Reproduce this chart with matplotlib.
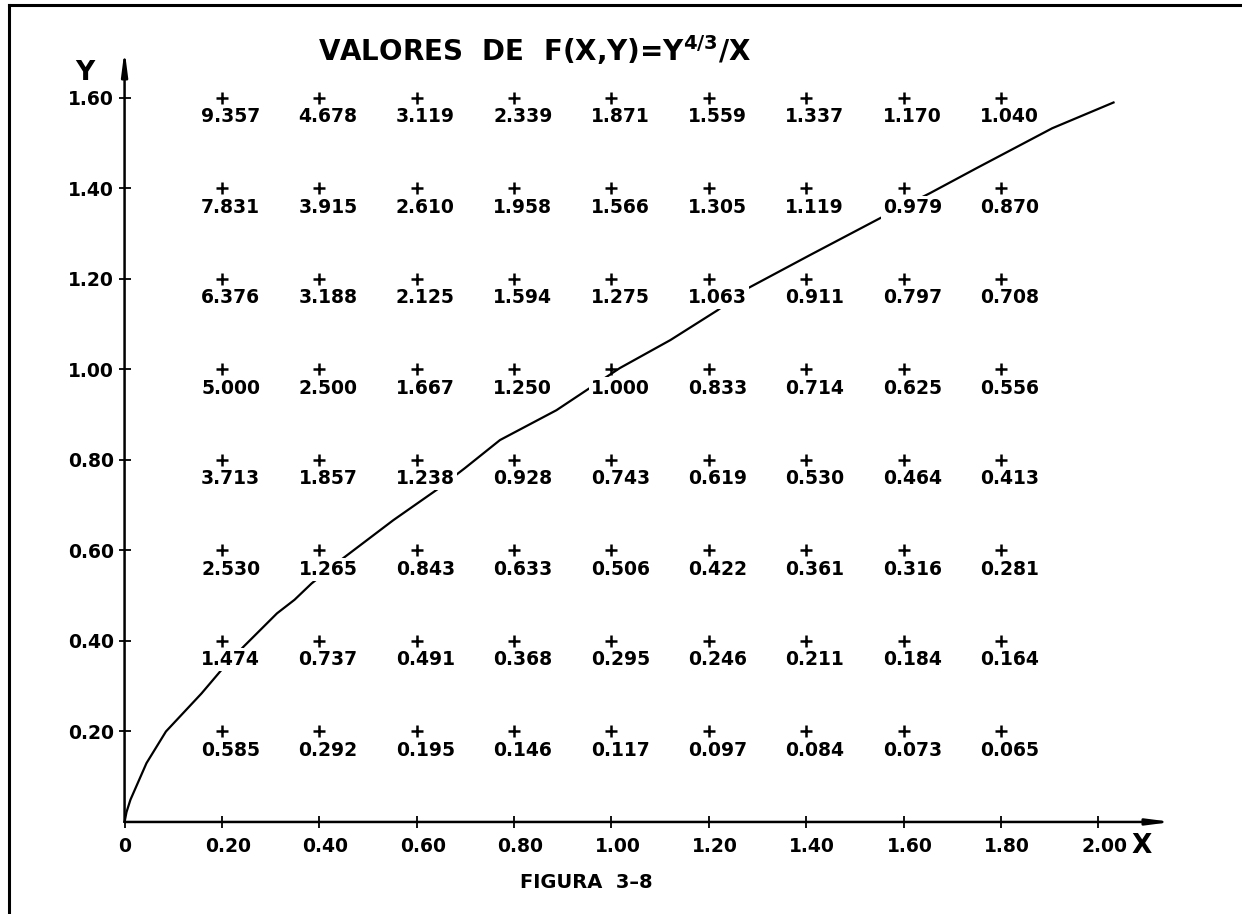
import matplotlib
matplotlib.use('Agg')
import matplotlib.pyplot as plt
from matplotlib.lines import Line2D
from matplotlib.transforms import ScaledTranslation

plt.rcParams['font.family'] = ['DejaVu Sans']
plt.rcParams['font.weight'] = 'bold'

# grid where F(X,Y) = Y^(4/3)/X was evaluated
x_vals = [0.2, 0.4, 0.6, 0.8, 1.0, 1.2, 1.4, 1.6, 1.8]
y_vals = [1.6, 1.4, 1.2, 1.0, 0.8, 0.6, 0.4, 0.2]

# values written under each cross, one row per Y (top to bottom)
f_vals = [
    [9.357, 4.678, 3.119, 2.339, 1.871, 1.559, 1.337, 1.170, 1.040],
    [7.831, 3.915, 2.610, 1.958, 1.566, 1.305, 1.119, 0.979, 0.870],
    [6.376, 3.188, 2.125, 1.594, 1.275, 1.063, 0.911, 0.797, 0.708],
    [5.000, 2.500, 1.667, 1.250, 1.000, 0.833, 0.714, 0.625, 0.556],
    [3.713, 1.857, 1.238, 0.928, 0.743, 0.619, 0.530, 0.464, 0.413],
    [2.530, 1.265, 0.843, 0.633, 0.506, 0.422, 0.361, 0.316, 0.281],
    [1.474, 0.737, 0.491, 0.368, 0.295, 0.246, 0.211, 0.184, 0.164],
    [0.585, 0.292, 0.195, 0.146, 0.117, 0.097, 0.084, 0.073, 0.065],
]

# hand drawn curve F = 1
curve_x = [0.0, 0.004, 0.012, 0.045, 0.085, 0.158, 0.199, 0.244, 0.313, 0.349,
           0.384, 0.449, 0.552, 0.641, 0.699, 0.771, 0.887, 1.017, 1.121, 1.218,
           1.274, 1.408, 1.551, 1.653, 1.750, 1.905, 2.031]
curve_y = [0.0, 0.022, 0.049, 0.130, 0.200, 0.284, 0.336, 0.387, 0.461, 0.491,
           0.527, 0.583, 0.667, 0.734, 0.782, 0.844, 0.910, 1.003, 1.065, 1.131,
           1.176, 1.253, 1.334, 1.389, 1.445, 1.533, 1.590]

xticks = [0.0, 0.2, 0.4, 0.6, 0.8, 1.0, 1.2, 1.4, 1.6, 1.8, 2.0]
xtick_labels = ['0', '0.20', '0.40', '0.60', '0.80', '1.00', '1.20', '1.40', '1.60', '1.80', '2.00']
yticks = [0.2, 0.4, 0.6, 0.8, 1.0, 1.2, 1.4, 1.6]
ytick_labels = ['0.20', '0.40', '0.60', '0.80', '1.00', '1.20', '1.40', '1.60']

fig = plt.figure(figsize=(12.42, 9.14), dpi=100)
ax = fig.add_axes([0.1003, 0.1007, 0.8433, 0.8446])
ax.set_xlim(0, 2.151)
ax.set_ylim(0, 1.706)

for s in ax.spines.values():
    s.set_visible(False)

# axes drawn as arrows
ax.annotate('', xy=(1, 0), xytext=(0, 0), xycoords='axes fraction',
            arrowprops=dict(arrowstyle='-|>,head_length=1.4,head_width=0.18',
                            lw=1.8, color='black', shrinkA=0, shrinkB=0))
ax.annotate('', xy=(0, 1), xytext=(0, 0), xycoords='axes fraction',
            arrowprops=dict(arrowstyle='-|>,head_length=1.4,head_width=0.18',
                            lw=1.8, color='black', shrinkA=0, shrinkB=0))

ax.set_xticks(xticks)
ax.set_xticklabels(xtick_labels)
ax.set_yticks(yticks)
ax.set_yticklabels(ytick_labels)
ax.tick_params(direction='inout', length=9, width=1.3, labelsize=13.5, color='black')
ax.tick_params(axis='x', pad=6)
ax.tick_params(axis='y', pad=3)
for lab in ax.get_xticklabels()[1:]:
    lab.set_transform(lab.get_transform() + ScaledTranslation(0.06, 0, fig.dpi_scale_trans))

# curve
ax.plot(curve_x, curve_y, color='black', lw=1.6, zorder=2, clip_on=False)

# crosses and values
for i, yv in enumerate(y_vals):
    for j, xv in enumerate(x_vals):
        ax.plot(xv, yv, marker='+', ms=8, mew=1.8, color='black', zorder=4)
        ax.annotate('%.3f' % f_vals[i][j], xy=(xv, yv), xytext=(-15, -13.5),
                    textcoords='offset points', ha='left', va='center',
                    fontsize=13.5, fontweight='bold', zorder=3,
                    bbox=dict(facecolor='white', edgecolor='none', pad=1.5))

# axis names
ax.annotate('Y', xy=(0, 1), xycoords='axes fraction', xytext=(-28.5, -16.6),
            textcoords='offset points', ha='center', va='center', fontsize=19, fontweight='bold')
ax.annotate('X', xy=(2.0, 0), xytext=(31, -17.5), textcoords='offset points',
            ha='center', va='center', fontsize=19, fontweight='bold')

fig.text(318 / 1242, 1 - 50 / 914, r'VALORES  DE  F(X,Y)=Y$^{\mathbf{4/3}}$/X',
         ha='left', va='center', fontsize=20, fontweight='bold')
fig.text(586 / 1242, 1 - 882 / 914, 'FIGURA  3\u20138', ha='center', va='center',
         fontsize=14, fontweight='bold')

# frame of the drawing sheet
fig.add_artist(Line2D([0.007, 0.007], [0, 0.994], transform=fig.transFigure, color='black', lw=2.2))
fig.add_artist(Line2D([0.007, 1.0], [0.994, 0.994], transform=fig.transFigure, color='black', lw=2.2))

fig.savefig('out.png', dpi=100)
